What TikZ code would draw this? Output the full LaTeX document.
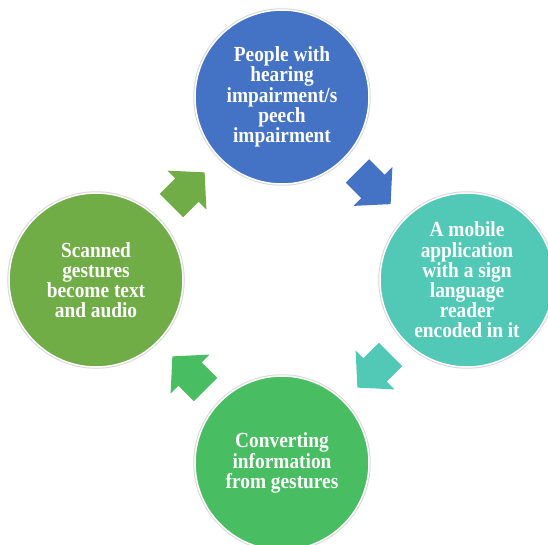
\documentclass[tikz,border=0pt]{standalone}
\usepackage{fontspec}
\setmainfont{Liberation Serif}
\newfontfamily\stagefont[FakeStretch=0.9]{Liberation Serif}
\definecolor{cblue}{HTML}{4472C4}
\definecolor{cteal}{HTML}{52C9B6}
\definecolor{cgreen}{HTML}{48BD62}
\definecolor{colive}{HTML}{70AD47}
\tikzset{
  stage/.style={circle, minimum size=174pt, inner sep=0pt, fill=#1,
    draw=white, line width=1.5pt,
    preaction={draw=gray!30, line width=3.5pt},
    text=white, align=center,
    font=\stagefont\fontsize{21.5}{20.2}\selectfont\bfseries},
  pics/blockarrow/.style={code={
    \fill[#1] (-23.5,-16.5) -- (-1.5,-16.5) -- (-1.5,-27.5) -- (23.5,0)
      -- (-1.5,27.5) -- (-1.5,16.5) -- (-23.5,16.5) -- cycle;}}
}
\begin{document}
\begin{tikzpicture}[x=1pt,y=-1pt]
\useasboundingbox[fill=white] (0,0) rectangle (548,544);
\node[stage=cblue] (top) at (282,97) {People with\\hearing\\impairment/s\\peech\\impairment};
\node[stage=cteal] (right) at (467,280) {A mobile\\application\\with a sign\\language\\reader\\encoded in it};
\node[stage=cgreen] (bottom) at (282,463) {Converting\\information\\from gestures};
\node[stage=colive] (left) at (96,280) {Scanned\\gestures\\become text\\and audio};
\pic[rotate=-45] (a1) at (374,187.5) {blockarrow=cblue};
\pic[rotate=-135] (a2) at (374,371) {blockarrow=cteal};
\pic[rotate=135] (a3) at (189,373) {blockarrow=cgreen};
\pic[rotate=45] (a4) at (188,189) {blockarrow=colive};
\end{tikzpicture}
\end{document}
